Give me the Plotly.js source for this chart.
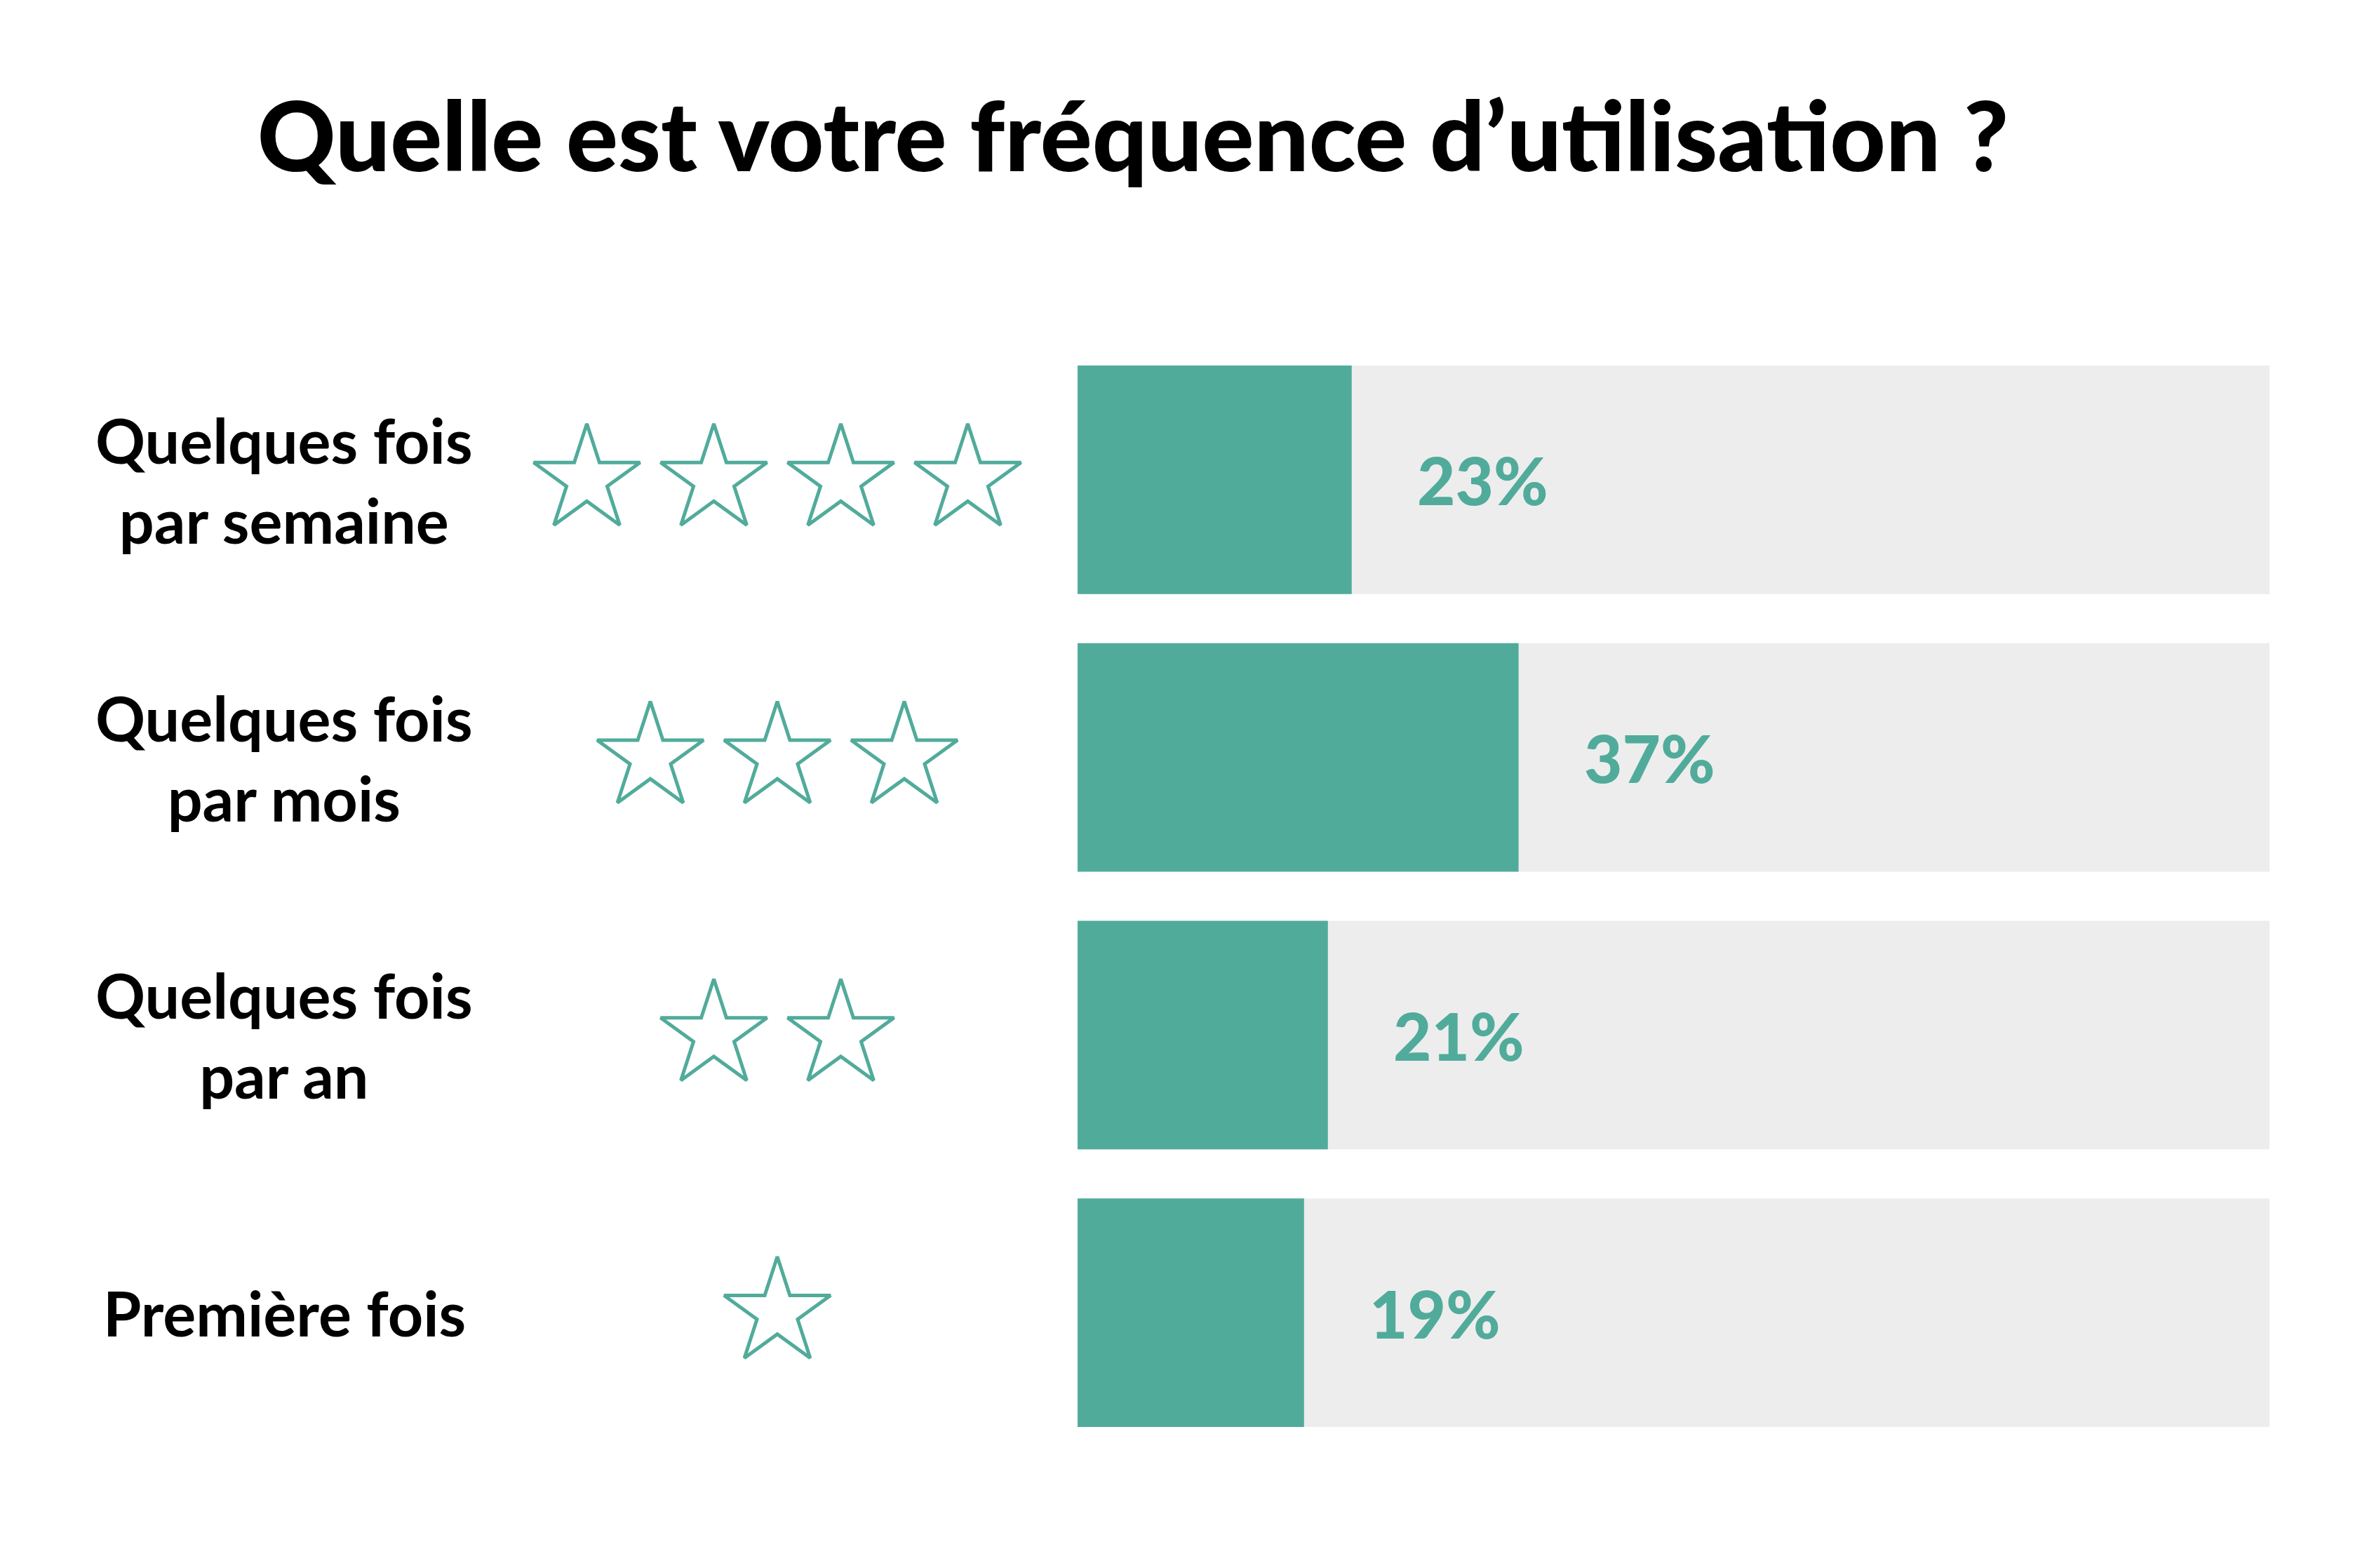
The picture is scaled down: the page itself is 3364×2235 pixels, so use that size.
<!DOCTYPE html>
<html>
<head>
<meta charset="utf-8">
<script src="https://cdn.plot.ly/plotly-3.0.1.min.js"></script>
<style>html,body{margin:0;padding:0;background:#fff;}</style>
</head>
<body>
<div id="chart" style="width:3364px;height:2235px;"></div>
<script>
// ---- data ----
const categories = ["Quelques fois<br>par semaine", "Quelques fois<br>par mois", "Quelques fois<br>par an", "Première fois"];
const percentages = [23, 37, 21, 19];
const starCounts = [4, 3, 2, 1];
const totals = [100, 100, 100, 100];
const titleText = "Quelle est votre fréquence d’utilisation ?";

// ---- styling ----
const TEAL = "#51AB9B";
const GREY = "#EDEDED";
const FONT = "Lato, 'Open Sans', sans-serif";

// star marker positions (computed from counts)
const starX = [], starY = [];
const starCenter = 1108, starStep = 181;
categories.forEach((c, i) => {
  const n = starCounts[i];
  for (let k = 0; k < n; k++) {
    starX.push(starCenter + (k - (n - 1) / 2) * starStep);
    starY.push(c);
  }
});

const traces = [
  {type: "bar", orientation: "h", y: categories, x: totals, marker: {color: GREY},
   hoverinfo: "skip", xaxis: "x", yaxis: "y"},
  {type: "bar", orientation: "h", y: categories, x: percentages, marker: {color: TEAL},
   hoverinfo: "skip", xaxis: "x", yaxis: "y"},
  {type: "scatter", mode: "markers", x: starX, y: starY, xaxis: "x2", yaxis: "y",
   marker: {symbol: "star-open", size: 114, color: TEAL, line: {width: 5, color: TEAL}},
   hoverinfo: "skip"}
];

const plotW = 3364 - 129;
const annotations = [];
categories.forEach((c, i) => {
  annotations.push({xref: "paper", yref: "y", x: 405 / plotW, y: c, text: c,
    showarrow: false, xanchor: "center", yanchor: "middle", align: "center",
    font: {family: FONT, size: 88, color: "#000", weight: 700}});
  annotations.push({xref: "x", yref: "y", x: percentages[i] + 11, y: c, text: percentages[i] + "%",
    showarrow: false, xanchor: "center", yanchor: "middle",
    font: {family: FONT, size: 94, color: TEAL, weight: 900}});
});

const layout = {
  width: 3364, height: 2235,
  margin: {l: 0, r: 129, t: 486, b: 166, pad: 0},
  paper_bgcolor: "#fff", plot_bgcolor: "#fff",
  showlegend: false,
  barmode: "overlay",
  bargap: 0.177,
  title: {text: titleText, x: 1615 / 3364, xanchor: "center", y: 1 - 196 / 2235, yanchor: "middle",
          font: {family: FONT, size: 138, color: "#000", weight: 900}},
  xaxis: {domain: [1536 / plotW, 1], range: [0, 100], visible: false, fixedrange: true},
  xaxis2: {domain: [0, 1536 / plotW], range: [0, 1536], visible: false, anchor: "y", fixedrange: true},
  yaxis: {type: "category", range: [3.5, -0.5], visible: false, fixedrange: true},
  annotations: annotations
};

Plotly.newPlot("chart", traces, layout, {displayModeBar: false, staticPlot: true});
</script>
</body>
</html>
